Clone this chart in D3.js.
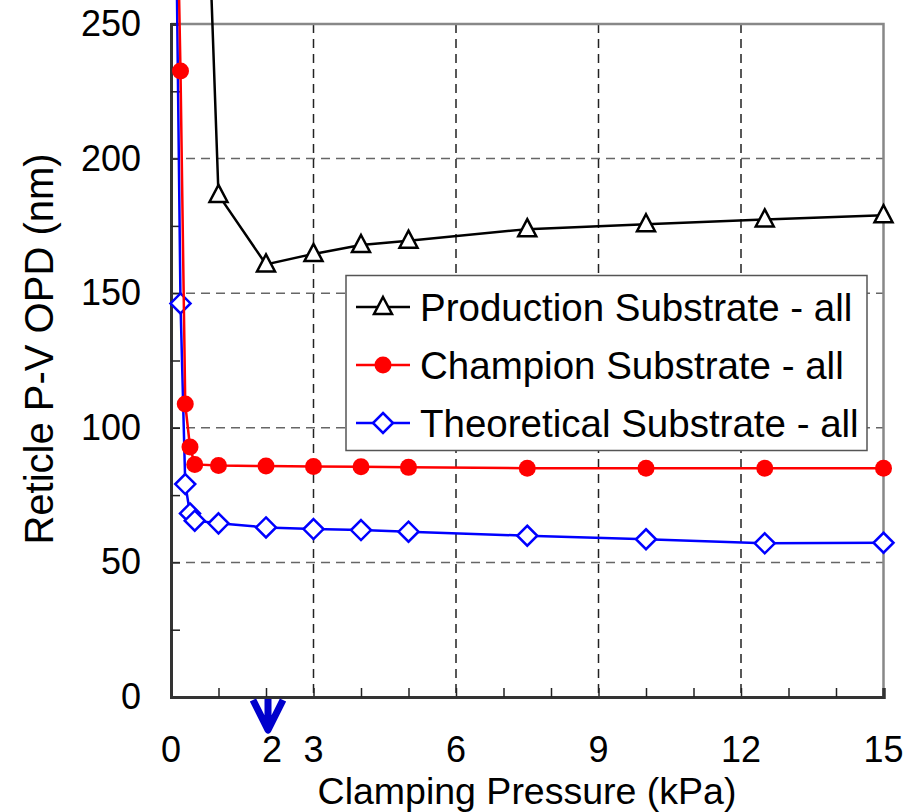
<!DOCTYPE html>
<html>
<head>
<meta charset="utf-8">
<script src="https://cdn.jsdelivr.net/npm/d3@7"></script>
<style>
  body { margin: 0; background: #fff; }
  text { font-family: "Liberation Sans", Arial, sans-serif; fill: #000; }
</style>
</head>
<body>
<div id="chart"></div>
<script>
// data
let production_x = [0.5, 1, 2, 3, 4, 5, 7.5, 10, 12.5, 15];
let production_y = [435, 186.5, 160.7, 164.6, 167.9, 169.5, 173.8, 175.6, 177.4, 179];

let champion_x = [0.1, 0.2, 0.3, 0.4, 0.5, 1, 2, 3, 4, 5, 7.5, 10, 12.5, 15];
let champion_y = [325, 232.5, 108.8, 92.9, 86.4, 86, 85.8, 85.6, 85.5, 85.3, 85, 85, 85, 85];

let theory_x = [0.1, 0.2, 0.3, 0.4, 0.5, 1, 2, 3, 4, 5, 7.5, 10, 12.5, 15];
let theory_y = [300, 146.2, 79.1, 68.2, 65.5, 64.5, 63, 62.4, 62, 61.4, 59.9, 58.6, 57.1, 57.3];

let x_major = [0, 3, 6, 9, 12, 15];
let x_minor = [1, 2, 4, 5, 7, 8, 10, 11, 13, 14];
let x_labels = [0, 2, 3, 6, 9, 12, 15];
let y_major = [0, 50, 100, 150, 200, 250];
let y_minor = [25, 75, 125, 175, 225];
let x_grid = [3, 6, 9, 12];
let y_grid = [50, 100, 150, 200];
let marked_x = 2;

let series_names = ['Production Substrate - all', 'Champion Substrate - all', 'Theoretical Substrate - all'];

let chart_width = 922;
let chart_height = 812;
let pad_left = 171, pad_right = 883.5, pad_top = 24, pad_bottom = 697;

let svg = d3.select('#chart')
            .append('svg')
            .attr('width', chart_width)
            .attr('height', chart_height);

let x_scale = d3.scaleLinear().domain([0, 15]).range([pad_left, pad_right]);
let y_scale = d3.scaleLinear().domain([0, 250]).range([pad_bottom, pad_top]);

//grid
svg.append('g').selectAll('line')
  .data(y_grid).enter().append('line')
  .attr('x1', pad_left).attr('x2', pad_right)
  .attr('y1', d => y_scale(d)).attr('y2', d => y_scale(d))
  .attr('stroke', '#666').attr('stroke-width', 1.5)
  .attr('stroke-dasharray', '9,6');

svg.append('g').selectAll('line')
  .data(x_grid).enter().append('line')
  .attr('x1', d => x_scale(d)).attr('x2', d => x_scale(d))
  .attr('y1', pad_top).attr('y2', pad_bottom)
  .attr('stroke', '#222').attr('stroke-width', 1.5)
  .attr('stroke-dasharray', '9,6');

//frame top / right
svg.append('path')
  .attr('d', `M${pad_left},${pad_top}H${pad_right}V${pad_bottom}`)
  .attr('fill', 'none').attr('stroke', '#888').attr('stroke-width', 2.5);

//axes
let y_axis = d3.axisLeft(y_scale).tickValues(y_major).tickSize(-9).tickPadding(30);
let y_axis_minor = d3.axisLeft(y_scale).tickValues(y_minor).tickSize(-9).tickFormat('');
let x_axis = d3.axisBottom(x_scale).tickValues(x_major).tickSize(-9).tickFormat('');
let x_axis_minor = d3.axisBottom(x_scale).tickValues(x_minor).tickSize(-9).tickFormat('');

[[y_axis, 'translate(' + pad_left + ',0)'], [y_axis_minor, 'translate(' + pad_left + ',0)'],
 [x_axis, 'translate(0,' + pad_bottom + ')'], [x_axis_minor, 'translate(0,' + pad_bottom + ')']]
  .forEach(([ax, tr]) => {
    let g = svg.append('g').attr('transform', tr).call(ax);
    g.select('.domain').attr('stroke', '#333').attr('stroke-width', 3);
    g.selectAll('.tick line').attr('stroke', '#222').attr('stroke-width', 1.5);
    g.selectAll('.tick text').attr('font-size', 36).attr('font-family', '"Liberation Sans", Arial, sans-serif').attr('fill', '#000');
  });

//x labels
svg.append('g').selectAll('text')
  .data(x_labels).enter().append('text')
  .attr('x', d => x_scale(d) + (d === marked_x ? 6 : 0))
  .attr('y', 762)
  .attr('text-anchor', 'middle')
  .attr('font-size', 36)
  .text(d => d);

//arrow at x = 2
let arrow_x = x_scale(marked_x) + 2;
svg.append('path')
  .attr('d', `M${arrow_x - 15},${pad_bottom + 3}L${arrow_x},${pad_bottom + 33}L${arrow_x + 15},${pad_bottom + 3}M${arrow_x},${pad_bottom + 2}V${pad_bottom + 31}`)
  .attr('fill', 'none').attr('stroke', '#0000cc').attr('stroke-width', 7)
  .attr('stroke-linejoin', 'round').attr('stroke-linecap', 'butt');

//titles
svg.append('text')
  .attr('x', 527).attr('y', 804)
  .attr('text-anchor', 'middle').attr('font-size', 37.5)
  .text('Clamping Pressure (kPa)');

svg.append('text')
  .attr('transform', 'translate(53,349) rotate(-90)')
  .attr('text-anchor', 'middle').attr('font-size', 40)
  .text('Reticle P-V OPD (nm)');

//lines + markers
let line = d3.line().x(d => x_scale(d[0])).y(d => y_scale(d[1]));
let zip = (xs, ys) => xs.map((x, i) => [x, ys[i]]);

let series = [
  { data: zip(production_x, production_y), color: '#000', marker: 'triangle' },
  { data: zip(champion_x, champion_y), color: '#ff0000', marker: 'circle' },
  { data: zip(theory_x, theory_y), color: '#0000ff', marker: 'diamond' }
];

function drawMarker(g, type, color, cx, cy) {
  if (type === 'circle') {
    g.append('circle').attr('cx', cx).attr('cy', cy).attr('r', 8.5).attr('fill', color);
  } else if (type === 'triangle') {
    g.append('path')
      .attr('d', `M${cx},${cy - 10}L${cx + 9},${cy + 7}L${cx - 9},${cy + 7}Z`)
      .attr('fill', '#fff').attr('stroke', color).attr('stroke-width', 2.5);
  } else {
    g.append('path')
      .attr('d', `M${cx},${cy - 10}L${cx + 10},${cy}L${cx},${cy + 10}L${cx - 10},${cy}Z`)
      .attr('fill', '#fff').attr('stroke', color).attr('stroke-width', 2.5);
  }
}

series.slice().reverse().forEach(s => {
  let g = svg.append('g');
  g.append('path').datum(s.data).attr('d', line)
    .attr('fill', 'none').attr('stroke', s.color).attr('stroke-width', 2.5);
  s.data.forEach(d => drawMarker(g, s.marker, s.color, x_scale(d[0]), y_scale(d[1])));
});

//legend
let lg = svg.append('g');
lg.append('rect').attr('x', 346).attr('y', 275.5).attr('width', 521).attr('height', 175)
  .attr('fill', '#fff').attr('stroke', '#555').attr('stroke-width', 1.5);
series.forEach((s, i) => {
  let yy = 307 + i * 58;
  lg.append('line').attr('x1', 356).attr('x2', 410).attr('y1', yy).attr('y2', yy)
    .attr('stroke', s.color).attr('stroke-width', 2.5);
  drawMarker(lg, s.marker, s.color, 383, yy);
  lg.append('text').attr('x', 420).attr('y', yy + 14).attr('font-size', 38.5).text(series_names[i]);
});
</script>
</body>
</html>
